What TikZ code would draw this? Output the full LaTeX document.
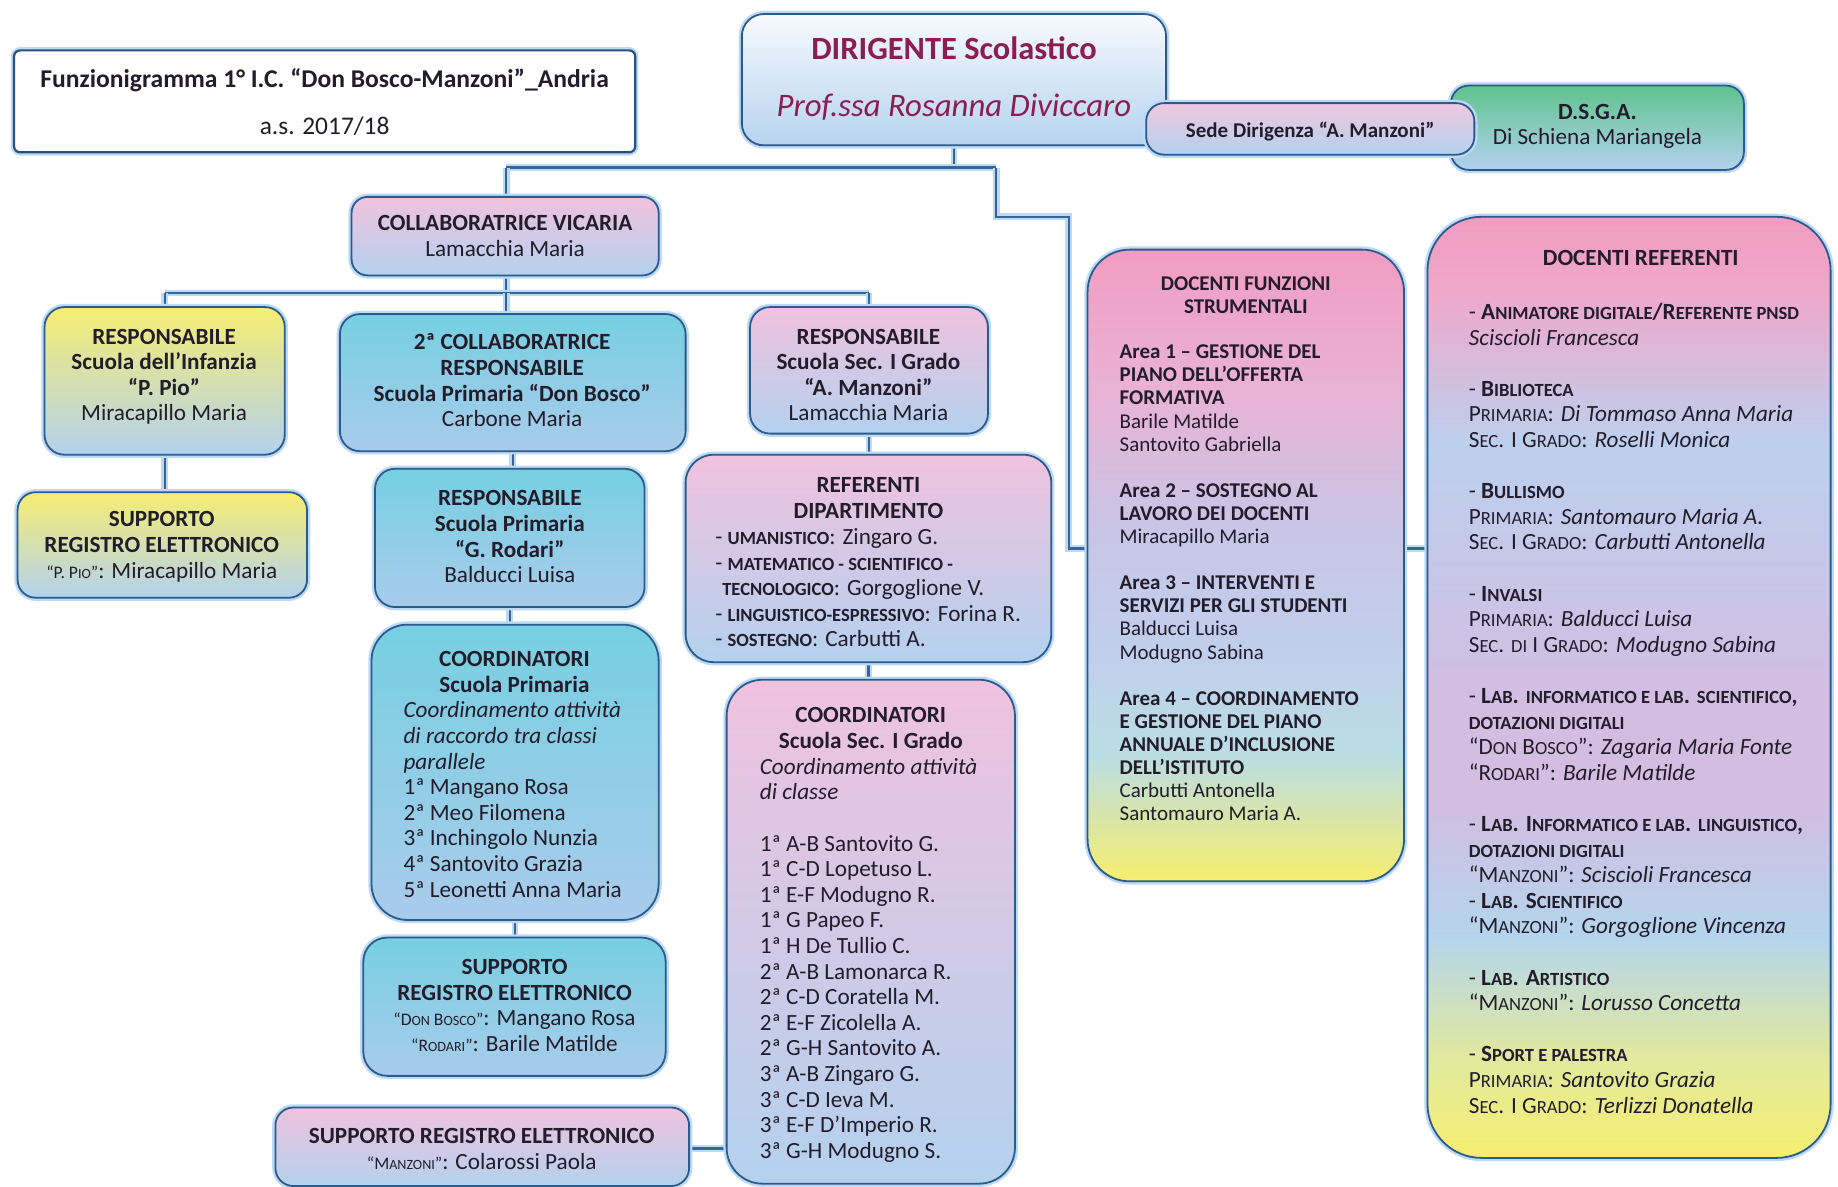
\documentclass[tikz,border=0pt]{standalone}
\usepackage{fontspec}
\setmainfont{Carlito}
\usepackage{graphicx}
\usetikzlibrary{calc,backgrounds}
\definecolor{txtc}{HTML}{221C2B}
\definecolor{dirc}{HTML}{8B1E50}
\definecolor{bordc}{HTML}{2B5A8C}
\definecolor{glowc}{HTML}{BCDAF4}
\definecolor{connc}{HTML}{34649A}
\definecolor{pinkL}{HTML}{F0C2DE}
\definecolor{blueL}{HTML}{B3D1EE}
\definecolor{yel}{HTML}{F6EE72}
\definecolor{cyan}{HTML}{76CFE1}
\definecolor{cyanB}{HTML}{A9CCEB}
\definecolor{grn}{HTML}{5EC38E}
\definecolor{dirT}{HTML}{F7FAFE}
\definecolor{dirB}{HTML}{B6D3EF}
\definecolor{sedeT}{HTML}{F0C8E0}
\definecolor{fp}{HTML}{F19CC2}
\definecolor{fpb}{HTML}{E9B2D4}
\definecolor{fl}{HTML}{C9C5E6}
\definecolor{fb}{HTML}{C0CFEC}
\definecolor{fg}{HTML}{BADDE3}
\definecolor{fy}{HTML}{F7EE6E}
\definecolor{rp}{HTML}{F29BC1}
\definecolor{rpb}{HTML}{EFA8CA}
\definecolor{rb}{HTML}{BCD0EE}
\definecolor{rl}{HTML}{D3BDE1}
\definecolor{rbb}{HTML}{B4D5EC}
\definecolor{rg}{HTML}{E0E9A0}
\definecolor{ry}{HTML}{F7EE70}
\pgfdeclareverticalshading{funsh}{100bp}{color(0bp)=(fy); color(25bp)=(fy); color(35bp)=(fg); color(43bp)=(fb); color(53bp)=(fl); color(64bp)=(fpb); color(75bp)=(fp); color(100bp)=(fp)}
\pgfdeclareverticalshading{refsh}{100bp}{color(0bp)=(ry); color(25bp)=(ry); color(30.5bp)=(rg); color(36.7bp)=(rbb); color(44bp)=(rl); color(49bp)=(rl); color(62.9bp)=(rb); color(71bp)=(rpb); color(75bp)=(rp); color(100bp)=(rp)}
\newcommand\sm[1]{\scalebox{0.8}{#1}}
\newcommand\bx[6]{%
  \pgfmathsetmacro\mybw{(#4-#2)*0.586}%
  \pgfmathsetmacro\mybh{(#5-#3)*0.586}%
  \node[box,#6,minimum width=\mybw pt,minimum height=\mybh pt] (#1) at ({(#2+#4)/2},{(#3+#5)/2}) {};}
\begin{document}
\begin{tikzpicture}[x=0.586pt,y=-0.586pt,
  box/.style={draw=bordc,line width=0.9pt,preaction={draw=glowc,line width=3.2pt},rounded corners=8pt,inner sep=0pt},
  conn/.style={draw=connc,line width=1.1pt,preaction={draw=glowc,line width=3.4pt}},
  txt/.style={inner sep=0pt,text=txtc,font=\fontsize{11.6}{12.8}\selectfont},
  ftxt/.style={inner sep=0pt,text=txtc,font=\fontsize{10.5}{11.55}\selectfont}]
\useasboundingbox (0,0) rectangle (1568.3,1012);
% boxes
\bx{title}{12}{43}{542}{130}{fill=white,rounded corners=3pt,draw=bordc!90!black,line width=1.1pt}
\bx{dir}{633}{12}{995}{124}{top color=dirT,bottom color=dirB,rounded corners=11pt}
\bx{dsga}{1238}{73}{1488}{145}{top color=grn,bottom color=blueL,rounded corners=9pt}
\bx{sede}{978}{88}{1258}{132}{top color=sedeT,bottom color=blueL,rounded corners=9pt}
\bx{vic}{300}{168}{562}{235}{top color=pinkL,bottom color=blueL,rounded corners=8pt}
\bx{inf}{38}{262}{243}{388}{top color=yel,bottom color=blueL,rounded corners=10pt}
\bx{supL}{15}{420}{262}{510}{top color=yel,bottom color=blueL,rounded corners=9pt}
\bx{col2}{290}{268}{585}{385}{top color=cyan,bottom color=cyanB,rounded corners=10pt}
\bx{rsec}{640}{262}{843}{370}{top color=pinkL,bottom color=blueL,rounded corners=10pt}
\bx{rod}{320}{400}{550}{518}{top color=cyan,bottom color=cyanB,rounded corners=10pt}
\bx{rdip}{585}{388}{897}{565}{top color=pinkL,bottom color=blueL,rounded corners=14pt}
\bx{cpri}{317}{533}{562}{785}{top color=cyan,bottom color=cyanB,rounded corners=18pt}
\bx{supM}{310}{800}{568}{918}{top color=cyan,bottom color=cyanB,rounded corners=12pt}
\bx{csec}{620}{580}{866}{1010}{top color=pinkL,bottom color=blueL,rounded corners=18pt}
\bx{supB}{235}{945}{588}{1012}{top color=pinkL,bottom color=blueL,rounded corners=9pt}
\bx{fun}{928}{213}{1198}{752}{shading=funsh,rounded corners=21pt}
\bx{ref}{1218}{185}{1562}{988}{shading=refsh,rounded corners=27pt}
% connectors
\coordinate (jL) at (432,143);
\coordinate (jR) at (850,143);
\coordinate (jS) at (912,185);
\coordinate (jF) at (912,468);
\coordinate (jM) at (432,250);
\coordinate (jB) at (600,980);
\begin{pgfonlayer}{background}
\fill[white] (0,0) rectangle (1568.3,1012);
\draw[conn] (dir.south) -- (dir.south |- jL);
\draw[conn] (jL) -- (jR);
\draw[conn] (jL) -- (jL |- vic.north);
\draw[conn] (jR) |- (jS) -- (jF) -- (jF -| fun.west);
\draw[conn] (fun.east |- jF) -- (ref.west |- jF);
\draw[conn] (vic.south -| jM) -- (jM);
\draw[conn] (inf.north |- jM) -- (rsec.north |- jM);
\draw[conn] (inf.north |- jM) -- (inf.north);
\draw[conn] (jM) -- (jM |- col2.north);
\draw[conn] (rsec.north |- jM) -- (rsec.north);
\draw[conn] (inf.south) -- (inf.south |- supL.north);
\draw[conn] (col2.south) -- (col2.south |- rod.north);
\draw[conn] (rod.south) -- (rod.south |- cpri.north);
\draw[conn] (cpri.south) -- (cpri.south |- supM.north);
\draw[conn] (rsec.south) -- (rsec.south |- rdip.north);
\draw[conn] (rdip.south) -- (rdip.south |- csec.north);
\draw[conn] (supB.east |- jB) -- (csec.west |- jB);
\end{pgfonlayer}
% texts
\node[txt,font=\fontsize{12.8}{14}\selectfont\bfseries,anchor=base] (title-a) at (277,74.5) {Funzionigramma 1° I.C. “Don Bosco-Manzoni”\_Andria};
\node[txt,font=\fontsize{12.7}{14}\selectfont,anchor=base] (title-b) at (277,114.5) {a.s. 2017/18};
\node[txt,font=\fontsize{16.2}{18}\selectfont\bfseries,text=dirc,anchor=base] (dir-a) at (814,50.5) {DIRIGENTE Scolastico};
\node[txt,font=\fontsize{16.4}{18}\selectfont\itshape,text=dirc,anchor=base] (dir-b) at (814,99) {Prof.ssa Rosanna Diviccaro};
\node[txt,font=\fontsize{10.5}{11.5}\selectfont\bfseries,anchor=base] (sede-t) at (1118,117.5) {Sede Dirigenza “A. Manzoni”};
\node[txt,align=center,anchor=north] (dsga-t) at (1363,86) {\strut\textbf{D.S.G.A.}\\Di Schiena Mariangela};
\node[txt,align=center,anchor=north] (vic-t) at (431,181) {\strut\textbf{COLLABORATRICE VICARIA}\\Lamacchia Maria};
\node[txt,align=center,anchor=north] (inf-t) at (140,278) {\strut\textbf{RESPONSABILE}\\\textbf{Scuola dell’Infanzia}\\\textbf{“P. Pio”}\\Miracapillo Maria};
\node[txt,align=center,anchor=north] (supL-t) at (138,434) {\strut\textbf{SUPPORTO}\\\textbf{REGISTRO ELETTRONICO}\\{\fontsize{8.8}{10}\selectfont“P. P\sm{IO}”}: Miracapillo Maria};
\node[txt,align=center,anchor=north] (col2-t) at (437,283) {\strut\textbf{2ª COLLABORATRICE}\\\textbf{RESPONSABILE}\\\textbf{Scuola Primaria “Don Bosco”}\\Carbone Maria};
\node[txt,align=center,anchor=north] (rsec-t) at (741,278) {\strut\textbf{RESPONSABILE}\\\textbf{Scuola Sec. I Grado}\\\textbf{“A. Manzoni”}\\Lamacchia Maria};
\node[txt,align=center,anchor=north] (rod-t) at (435,416) {\strut\textbf{RESPONSABILE}\\\textbf{Scuola Primaria}\\\textbf{“G. Rodari”}\\Balducci Luisa};
\node[txt,align=center,anchor=north] (rdip-h) at (741,405) {\strut\textbf{REFERENTI}\\\textbf{DIPARTIMENTO}};
\node[txt,align=left,anchor=north west] (rdip-b) at (610,449) {\strut- \textbf{\sm{UMANISTICO}}: Zingaro G.\\- \textbf{\sm{MATEMATICO - SCIENTIFICO -}}\\\hspace{0.3em}\textbf{\sm{TECNOLOGICO}}: Gorgoglione V.\\- \textbf{\sm{LINGUISTICO-ESPRESSIVO}}: Forina R.\\- \textbf{\sm{SOSTEGNO}}: Carbutti A.};
\node[txt,align=center,anchor=north] (cpri-h) at (439,553) {\strut\textbf{COORDINATORI}\\\textbf{Scuola Primaria}};
\node[txt,align=left,anchor=north west] (cpri-b) at (344,597) {\strut\textit{Coordinamento attività}\\\textit{di raccordo tra classi}\\\textit{parallele}\\1ª Mangano Rosa\\2ª Meo Filomena\\3ª Inchingolo Nunzia\\4ª Santovito Grazia\\5ª Leonetti Anna Maria};
\node[txt,align=center,anchor=north] (supM-t) at (439,816) {\strut\textbf{SUPPORTO}\\\textbf{REGISTRO ELETTRONICO}\\{\fontsize{8.8}{10}\selectfont“D\sm{ON} B\sm{OSCO}”}: Mangano Rosa\\{\fontsize{8.8}{10}\selectfont“R\sm{ODARI}”}: Barile Matilde};
\node[txt,align=center,anchor=north] (csec-h) at (743,601) {\strut\textbf{COORDINATORI}\\\textbf{Scuola Sec. I Grado}};
\node[txt,align=left,anchor=north west] (csec-b) at (648,645) {\strut\textit{Coordinamento attività}\\\textit{di classe}\\[12.8pt]1ª A-B Santovito G.\\1ª C-D Lopetuso L.\\1ª E-F Modugno R.\\1ª G Papeo F.\\1ª H De Tullio C.\\2ª A-B Lamonarca R.\\2ª C-D Coratella M.\\2ª E-F Zicolella A.\\2ª G-H Santovito A.\\3ª A-B Zingaro G.\\3ª C-D Ieva M.\\3ª E-F D’Imperio R.\\3ª G-H Modugno S.};
\node[txt,align=center,anchor=north] (supB-t) at (411,960) {\strut\textbf{SUPPORTO REGISTRO ELETTRONICO}\\{\fontsize{8.8}{10}\selectfont“M\sm{ANZONI}”}: Colarossi Paola};
\node[ftxt,align=center,anchor=north] (fun-h) at (1063,234) {\strut\textbf{DOCENTI FUNZIONI}\\\textbf{STRUMENTALI}};
\node[ftxt,align=left,anchor=north west] (fun-b) at (955,292) {\strut\textbf{Area 1 – GESTIONE DEL}\\\textbf{PIANO DELL’OFFERTA}\\\textbf{FORMATIVA}\\Barile Matilde\\Santovito Gabriella\\[11.55pt]\textbf{Area 2 – SOSTEGNO AL}\\\textbf{LAVORO DEI DOCENTI}\\Miracapillo Maria\\[11.55pt]\textbf{Area 3 – INTERVENTI E}\\\textbf{SERVIZI PER GLI STUDENTI}\\Balducci Luisa\\Modugno Sabina\\[11.55pt]\textbf{Area 4 – COORDINAMENTO}\\\textbf{E GESTIONE DEL PIANO}\\\textbf{ANNUALE D’INCLUSIONE}\\\textbf{DELL’ISTITUTO}\\Carbutti Antonella\\Santomauro Maria A.};
\node[txt,font=\fontsize{11.6}{12.8}\selectfont\bfseries,anchor=base] (ref-h) at (1400,226.3) {DOCENTI REFERENTI};
\node[txt,align=left,anchor=north west] (ref-b) at (1253,257) {\strut- \textbf{A\sm{NIMATORE DIGITALE}/R\sm{EFERENTE PNSD}}\\\textit{Sciscioli Francesca}\\[12.8pt]- \textbf{B\sm{IBLIOTECA}}\\P\sm{RIMARIA}: \textit{Di Tommaso Anna Maria}\\S\sm{EC}. I G\sm{RADO}: \textit{Roselli Monica}\\[12.8pt]- \textbf{B\sm{ULLISMO}}\\P\sm{RIMARIA}: \textit{Santomauro Maria A.}\\S\sm{EC}. I G\sm{RADO}: \textit{Carbutti Antonella}\\[12.8pt]- \textbf{I\sm{NVALSI}}\\P\sm{RIMARIA}: \textit{Balducci Luisa}\\S\sm{EC}. \sm{DI} I G\sm{RADO}: \textit{Modugno Sabina}\\[12.8pt]- \textbf{L\sm{AB}. \sm{INFORMATICO E LAB}. \sm{SCIENTIFICO},}\\\textbf{\sm{DOTAZIONI DIGITALI}}\\“D\sm{ON} B\sm{OSCO}”: \textit{Zagaria Maria Fonte}\\“R\sm{ODARI}”: \textit{Barile Matilde}\\[12.8pt]- \textbf{L\sm{AB}. I\sm{NFORMATICO E LAB}. \sm{LINGUISTICO},}\\\textbf{\sm{DOTAZIONI DIGITALI}}\\“M\sm{ANZONI}”: \textit{Sciscioli Francesca}\\- \textbf{L\sm{AB}. S\sm{CIENTIFICO}}\\“M\sm{ANZONI}”: \textit{Gorgoglione Vincenza}\\[12.8pt]- \textbf{L\sm{AB}. A\sm{RTISTICO}}\\“M\sm{ANZONI}”: \textit{Lorusso Concetta}\\[12.8pt]- \textbf{S\sm{PORT E PALESTRA}}\\P\sm{RIMARIA}: \textit{Santovito Grazia}\\S\sm{EC}. I G\sm{RADO}: \textit{Terlizzi Donatella}};
\end{tikzpicture}
\end{document}
